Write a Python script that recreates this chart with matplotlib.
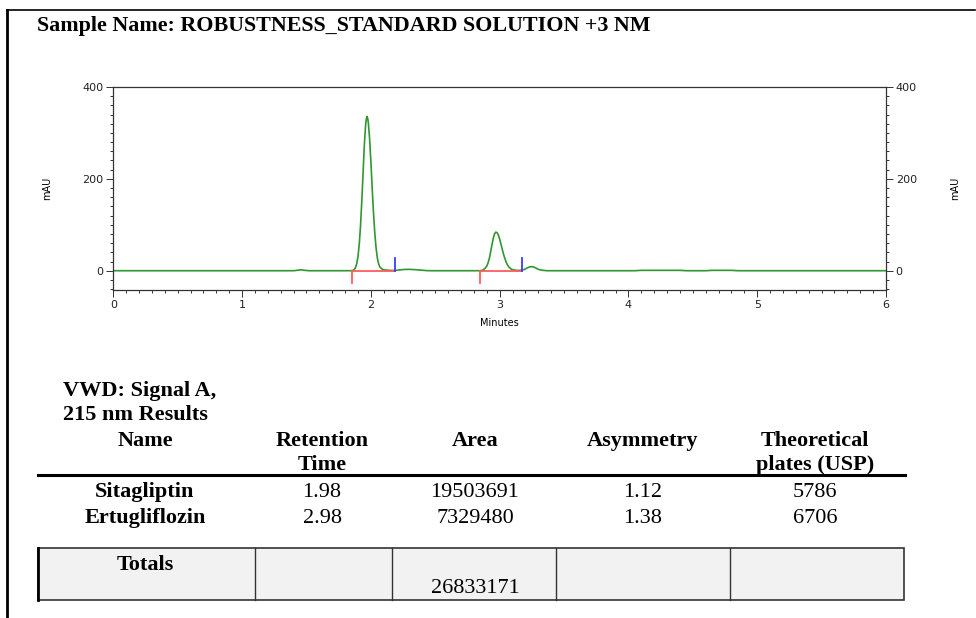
import matplotlib
matplotlib.use("Agg")
import matplotlib.pyplot as plt
from matplotlib.lines import Line2D
from matplotlib.patches import Rectangle
from matplotlib.ticker import MultipleLocator, FixedLocator

# Chromatogram trace (minutes, mAU)
trace_time = [0.00, 1.40, 1.43, 1.455, 1.48, 1.52, 1.84, 1.86, 1.870, 1.880, 1.890, 1.900,
              1.910, 1.920, 1.930, 1.940, 1.950, 1.960, 1.965, 1.970, 1.975, 1.980, 1.990,
              2.000, 2.010, 2.020, 2.030, 2.040, 2.050, 2.060, 2.070, 2.085, 2.10, 2.13,
              2.17, 2.20, 2.25, 2.29, 2.33, 2.38, 2.43, 2.46, 2.84, 2.86, 2.875, 2.890,
              2.900, 2.910, 2.920, 2.930, 2.940, 2.950, 2.960, 2.970, 2.980, 2.990, 3.000,
              3.010, 3.020, 3.030, 3.040, 3.050, 3.060, 3.075, 3.09, 3.11, 3.14, 3.17,
              3.19, 3.21, 3.23, 3.248, 3.265, 3.28, 3.30, 3.33, 3.37, 4.05, 4.10, 4.40,
              4.45, 4.60, 4.65, 4.80, 4.85, 6.00]
trace_mau = [0.0, 0.0, 1.0, 2.0, 1.0, 0.0, 0.0, 0.5, 2.5, 6, 15, 31,
             58, 99, 154, 216, 277, 320, 331, 336, 332, 323, 288,
             238, 181, 128, 84, 51, 28, 15, 8, 4, 2, 1,
             0.5, 1, 2.5, 3, 2.5, 1.5, 0.3, 0, 0, 0.5, 2.5, 6,
             10, 17, 27, 41, 56, 70, 80, 84, 83, 78, 69,
             58, 47, 36, 27, 19, 13, 7, 3.5, 1.5, 0.6, 1,
             2.5, 5.5, 8, 9, 8, 6, 3, 1, 0, 0, 0.8, 0.8,
             0, 0, 0.8, 0.8, 0, 0]

# Integration events
peak_start = [1.853, 2.846]
peak_end = [2.187, 3.170]
mark_len = 27

# Results table
sample_name = "Sample Name: ROBUSTNESS_STANDARD SOLUTION +3 NM"
signal_title = ["VWD: Signal A,", "215 nm Results"]
col_headers = [["Name"], ["Retention", "Time"], ["Area"], ["Asymmetry"],
               ["Theoretical", "plates (USP)"]]
compounds = ["Sitagliptin", "Ertugliflozin"]
ret_times = ["1.98", "2.98"]
areas = ["19503691", "7329480"]
asymmetry = ["1.12", "1.38"]
plates = ["5786", "6706"]
total_area = "26833171"

W, H = 976, 618
fig = plt.figure(figsize=(W / 100, H / 100), dpi=100)


def fx(x):
    return x / W


def fy(y):
    return 1 - y / H


# chromatogram axes
ax = fig.add_axes([fx(113.3), fy(290), fx(886) - fx(113.3), fy(87) - fy(290)])
ax.plot(trace_time, trace_mau, color="#2f972f", lw=1.2)
for s, e in zip(peak_start, peak_end):
    ax.plot([s, e], [0, 0], color="#ff5a5a", lw=1.3)
    ax.plot([s, s], [0, -mark_len], color="#ff5a5a", lw=1.3)
    ax.plot([e, e], [0, mark_len], color="#3a3aff", lw=1.3)

ax.set_xlim(0, 6)
ax.set_ylim(-42, 400)
ax.xaxis.set_major_locator(MultipleLocator(1))
ax.xaxis.set_minor_locator(MultipleLocator(0.1))
ax.yaxis.set_major_locator(FixedLocator([0, 200, 400]))
ax.yaxis.set_minor_locator(MultipleLocator(20))
ax.tick_params(which="both", direction="out", labelsize=8, width=0.7,
               right=True, labelright=True, colors="#333333", labelcolor="#222222")
ax.tick_params(which="major", length=5, pad=2)
ax.tick_params(which="minor", length=2.5)
for sp in ax.spines.values():
    sp.set_linewidth(0.9)
    sp.set_color("#333333")
ax.set_xlabel("Minutes", fontsize=7, labelpad=6)
ax.set_ylabel("mAU", fontsize=7, labelpad=22)
ax.text(1.09, 0.5, "mAU", transform=ax.transAxes, rotation=90, fontsize=7,
        ha="center", va="center")

# page frame
fig.add_artist(Line2D([fx(7), fx(7)], [fy(10), fy(618)], color="black", lw=2))
fig.add_artist(Line2D([fx(7), fx(975)], [fy(10), fy(10)], color="black", lw=1.2))

serif = "Liberation Serif"
fs = 16
fig.text(fx(37), fy(31), sample_name, family=serif, weight="bold", fontsize=15.8,
         va="baseline", ha="left")

fig.text(fx(63), fy(396), signal_title[0], family=serif, weight="bold", fontsize=fs,
         va="baseline", ha="left")
fig.text(fx(63), fy(420), signal_title[1], family=serif, weight="bold", fontsize=fs,
         va="baseline", ha="left")

col_x = [145, 322, 475, 643, 815]
for cx, hdr in zip(col_x, col_headers):
    for i, line in enumerate(hdr):
        fig.text(fx(cx), fy(446 + 24 * i), line, family=serif, weight="bold",
                 fontsize=fs, ha="center", va="baseline")

fig.add_artist(Line2D([fx(38), fx(905)], [fy(475), fy(475)], color="black", lw=2.2))

row_y = [497, 523]
for ry, name, rt, ar, asy, pl in zip(row_y, compounds, ret_times, areas, asymmetry, plates):
    fig.text(fx(col_x[0]), fy(ry), name, family=serif, weight="bold", fontsize=fs,
             ha="center", va="baseline")
    for cx, val in zip(col_x[1:], [rt, ar, asy, pl]):
        fig.text(fx(cx), fy(ry), val, family=serif, fontsize=fs, ha="center",
                 va="baseline")

# totals box
fig.add_artist(Rectangle((fx(38), fy(600)), fx(904) - fx(38), fy(548) - fy(600),
                         facecolor="#f2f2f2", edgecolor="#333333", lw=1.2))
for sx in [255, 392, 556, 730]:
    fig.add_artist(Line2D([fx(sx), fx(sx)], [fy(548), fy(600)], color="#333333", lw=1.0))
fig.add_artist(Line2D([fx(38), fx(38)], [fy(548), fy(600)], color="black", lw=2))
fig.text(fx(145), fy(570), "Totals", family=serif, weight="bold", fontsize=fs,
         ha="center", va="baseline")
fig.text(fx(475), fy(593), total_area, family=serif, fontsize=fs, ha="center",
         va="baseline")

fig.savefig("out.png", dpi=100)
